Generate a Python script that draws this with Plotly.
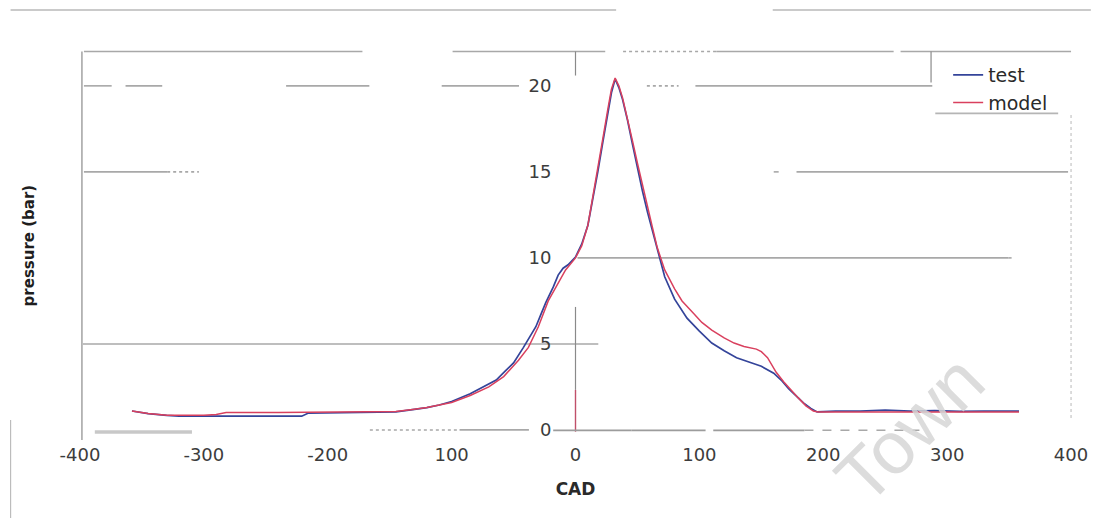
import plotly.graph_objects as go

# Crank-angle (CAD) vs cylinder pressure (bar)
test_cad = [-358, -345, -330, -320, -280, -240, -221, -216, -190, -165, -145, -130,
            -120, -110, -100, -85, -75, -64, -57, -50, -42, -36, -32, -28, -24, -18,
            -14, -10, -6, 0, 5, 10, 14, 18, 22, 26, 29, 32, 35, 38, 42, 46, 50, 54,
            58, 62, 66, 72, 80, 90, 100, 110, 120, 130, 140, 150, 160, 166, 172, 178,
            184, 190, 195, 210, 230, 250, 270, 290, 310, 330, 345, 358]
test_p = [1.1, 0.95, 0.85, 0.8, 0.8, 0.8, 0.8, 0.97, 1.0, 1.0, 1.05, 1.2,
          1.3, 1.45, 1.65, 2.1, 2.5, 2.9, 3.4, 3.9, 4.8, 5.5, 6.0, 6.7, 7.4, 8.3,
          9.0, 9.4, 9.6, 10.05, 10.8, 11.9, 13.4, 15.0, 16.7, 18.4, 19.6, 20.4, 19.9, 19.2, 18.0, 16.6, 15.2, 13.9,
          12.7, 11.6, 10.5, 8.9, 7.6, 6.5, 5.75, 5.05, 4.6, 4.2, 3.95, 3.7, 3.3, 2.9, 2.4, 2.0,
          1.57, 1.25, 1.05, 1.1, 1.1, 1.15, 1.1, 1.12, 1.08, 1.1, 1.12, 1.1]

model_cad = [-358, -345, -330, -300, -290, -282, -240, -200, -165, -145, -130, -120,
             -110, -100, -85, -70, -58, -46, -38, -30, -22, -14, -8, 0, 5, 10, 14, 18,
             22, 26, 29, 32, 35, 38, 42, 46, 50, 54, 58, 62, 66, 72, 80, 86, 95, 102,
             110, 120, 128, 136, 146, 150, 155, 162, 168, 174, 180, 186, 192, 196, 220,
             250, 280, 310, 340, 358]
model_p = [1.1, 0.95, 0.85, 0.85, 0.9, 1.02, 1.02, 1.03, 1.05, 1.07, 1.2, 1.3,
           1.45, 1.6, 2.0, 2.5, 3.1, 4.05, 4.8, 6.0, 7.5, 8.5, 9.3, 10.0, 10.7, 11.9, 13.5, 15.2,
           16.9, 18.6, 19.8, 20.45, 20.0, 19.3, 18.1, 16.8, 15.5, 14.2, 13.0, 11.8, 10.6, 9.3, 8.2, 7.5, 6.8, 6.25,
           5.8, 5.35, 5.05, 4.85, 4.7, 4.55, 4.2, 3.35, 2.8, 2.3, 1.85, 1.4, 1.1, 1.05, 1.05,
           1.08, 1.05, 1.07, 1.05, 1.05]

x_ticks = [-400, -300, -200, -100, 0, 100, 200, 300, 400]
x_tick_text = ["-400", "-300", "-200", "100", "0", "100", "200", "300", "400"]
y_ticks = [0, 5, 10, 15, 20]

W, H = 1100, 518
ML, MR, MT, MB = 75, 15, 48, 76
X_RANGE = [-404, 404]
Y_RANGE = [-0.7, 22.2]

TICK_FONT = dict(family="DejaVu Sans", size=18, color="#3c3c3c")
GRID = "#a8a8a8"


def px_to_paper(px, py):
    """Convert page pixels to paper coordinates for decorations outside the plot."""
    return (px - ML) / (W - ML - MR), 1 - (py - MT) / (H - MT - MB)


fig = go.Figure()
fig.add_trace(go.Scatter(x=test_cad, y=test_p, mode="lines", name="test",
                         line=dict(color="#34449a", width=1.7)))
fig.add_trace(go.Scatter(x=model_cad, y=model_p, mode="lines", name="model",
                         line=dict(color="#d9405e", width=1.5)))

shapes = []


def hseg(x0, x1, y, color=GRID, width=1.6, dash="solid", layer="below"):
    shapes.append(dict(type="line", xref="x", yref="y", x0=x0, x1=x1, y0=y, y1=y,
                       line=dict(color=color, width=width, dash=dash), layer=layer))


def vseg(x, y0, y1, color=GRID, width=1.2, dash="solid"):
    shapes.append(dict(type="line", xref="x", yref="y", x0=x, x1=x, y0=y0, y1=y1,
                       line=dict(color=color, width=width, dash=dash), layer="below"))


# broken frame / grid lines of the printed chart
hseg(-396.8, -172, 22)
hseg(-99.2, 24, 22)
hseg(38.4, 113.6, 22, dash="dot")
hseg(113.6, 256.8, 22)
hseg(262.4, 400, 22)

hseg(-396.8, -374.4, 20)
hseg(-363.2, -333.6, 20)
hseg(-233.6, -166.4, 20)
hseg(-108, -45.6, 20)
hseg(57.6, 83.2, 20, dash="dot")
hseg(96.8, 288, 20)

hseg(-396.8, -329.6, 15)
hseg(-329.6, -304, 15, dash="dot")
hseg(160, 164, 15)
hseg(178.4, 397.6, 15)

hseg(1.6, 349.6, 10)
hseg(349.6, 354, 10, dash="dot")

hseg(-397.6, 18.4, 5)

# baseline pieces
hseg(-388, -309.6, -0.12, color="#c8c8c8", width=3.5)
hseg(-166, -93.6, 0, dash="dot", layer="above")
hseg(-93.6, -37.6, 0, width=1.8, layer="above")
hseg(-18, 45, -0.02, width=1.8, color="#9c9c9c", layer="above")
hseg(45, 105, -0.02, width=1.8, color="#9c9c9c", layer="above")
hseg(111.2, 184.8, -0.02, width=1.8, color="#9c9c9c", layer="above")
hseg(184.8, 277.6, -0.02, dash="dash", width=1.6, layer="above")

vseg(-398.4, 22, -0.58, color="#8a8a8a")
vseg(0, 22, 20.6, color="#8a8a8a")
vseg(0, 7.15, 2.33, color="#8a8a8a")
vseg(0, 2.33, -0.1, color="#c0506a", width=1.4)
vseg(400, 18.3, 0.6, color="#c4c4c4", dash="dot")

# legend box edges
vseg(287, 22, 20.2, color="#8a8a8a")
hseg(290.4, 389.6, 18.4, color="#b5b5b5")

# page border pieces
bx0, by0 = px_to_paper(10, 10)
bx1, _ = px_to_paper(621, 10)
bx2, _ = px_to_paper(779, 10)
bx3, _ = px_to_paper(1100, 10)
shapes.append(dict(type="line", xref="paper", yref="paper", x0=bx0, x1=bx1, y0=by0, y1=by0,
                   line=dict(color="#b8b8b8", width=1.5)))
shapes.append(dict(type="line", xref="paper", yref="paper", x0=bx2, x1=bx3, y0=by0, y1=by0,
                   line=dict(color="#b8b8b8", width=1.5)))
lx, ly0 = px_to_paper(10, 420)
_, ly1 = px_to_paper(10, 518)
shapes.append(dict(type="line", xref="paper", yref="paper", x0=lx, x1=lx, y0=ly0, y1=ly1,
                   line=dict(color="#bcbcbc", width=1.2)))

tx, ty = px_to_paper(29, 245)
lgx, lgy = px_to_paper(956, 56)

fig.update_layout(
    width=W, height=H,
    margin=dict(l=ML, r=MR, t=MT, b=MB),
    paper_bgcolor="white", plot_bgcolor="white",
    shapes=shapes,
    showlegend=True,
    legend=dict(x=lgx, y=lgy, xanchor="left", yanchor="top",
                bgcolor="rgba(255,255,255,0)", borderwidth=0,
                font=dict(family="DejaVu Sans", size=19, color="#2a2a2a"),
                itemwidth=30, tracegroupgap=0),
    xaxis=dict(range=X_RANGE, showgrid=False, zeroline=False, showline=False,
               tickmode="array", tickvals=x_ticks, ticktext=x_tick_text,
               ticks="", tickfont=TICK_FONT,
               title=dict(text="<b>CAD</b>", standoff=19,
                          font=dict(family="DejaVu Sans", size=17, color="#2a2a2a"))),
    yaxis=dict(range=Y_RANGE, showgrid=False, zeroline=False, showline=False,
               anchor="free", position=0.5,
               tickmode="array", tickvals=y_ticks, ticks="",
               ticklabelstandoff=24, tickfont=TICK_FONT),
    annotations=[
        dict(text="<b>pressure (bar)</b>", xref="paper", yref="paper", x=tx, y=ty,
             xanchor="center", yanchor="middle",
             textangle=-90, showarrow=False,
             font=dict(family="DejaVu Sans", size=15, color="#1e1e1e")),
        dict(text="Town", xref="x", yref="y", x=270, y=0.1, textangle=-45,
             xanchor="center", yanchor="middle",
             showarrow=False,
             font=dict(family="Liberation Sans", size=74, color="rgba(214,214,214,0.85)")),
    ],
)

fig.write_html("out.html")
